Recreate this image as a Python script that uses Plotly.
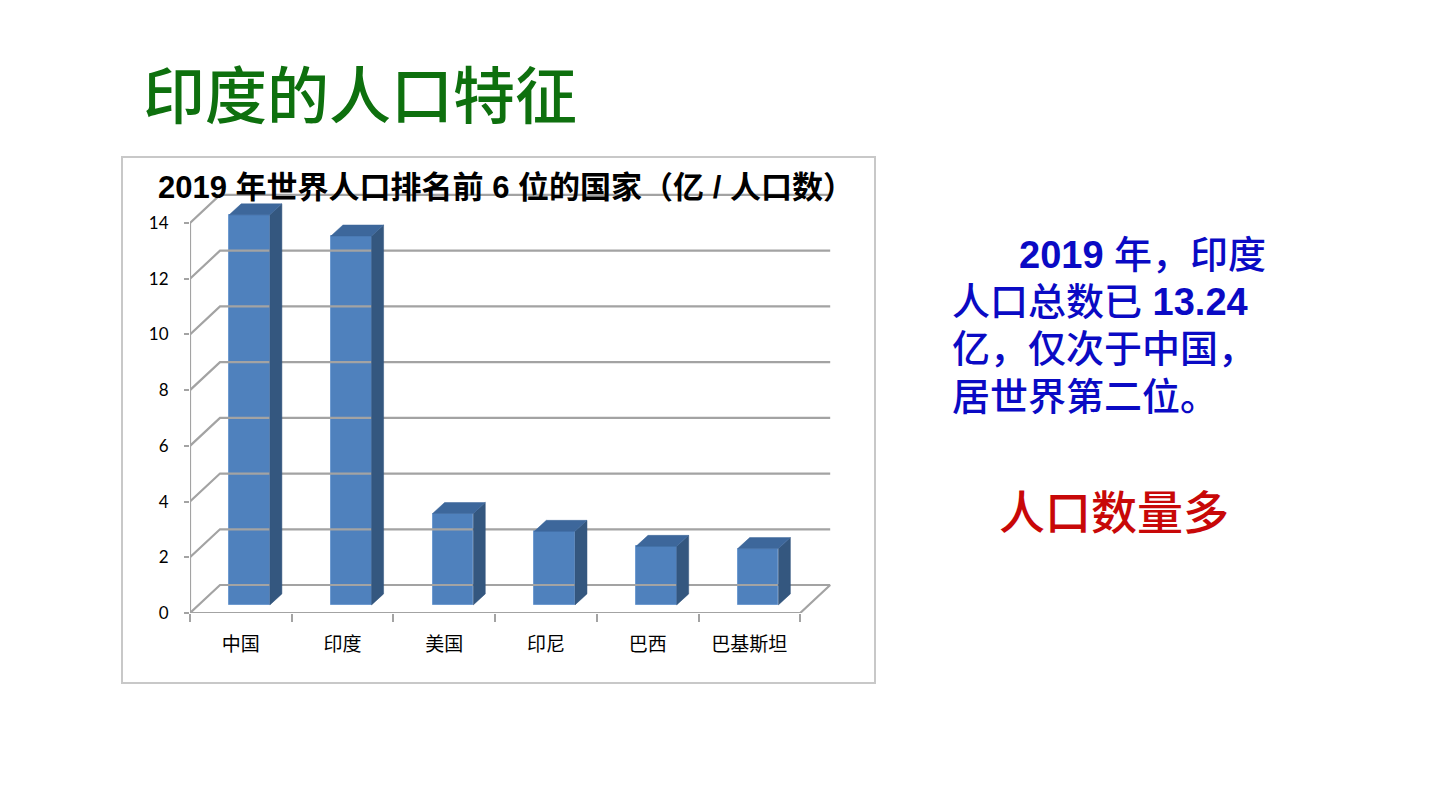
import plotly.graph_objects as go

# ---------------- data ----------------
countries = ["中国", "印度", "美国", "印尼", "巴西", "巴基斯坦"]
population = [14.0, 13.24, 3.28, 2.64, 2.10, 2.02]   # 亿
y_ticks = [0, 2, 4, 6, 8, 10, 12, 14]

chart_title = "<b>2019 年世界人口排名前 6 位的国家（亿 / 人口数）</b>"
slide_title = "印度的人口特征"
side_lines = ["<b>2019</b> 年，印度", "人口总数已 <b>13.24</b>", "亿，仅次于中国，", "居世界第二位。"]
side_note = "人口数量多"

# ---------------- geometry (style) ----------------
W, H = 1440, 810
L, R, B, T = 190, 599, 197, 170
px_per_cat = 101.7
px_per_unit = 27.86
plot_w = W - L - R
plot_h = H - T - B
x_max = plot_w / px_per_cat
y_max = plot_h / px_per_unit

n = len(countries)
DX, DY = 30 / px_per_cat, 28 / px_per_unit          # full depth of the floor/walls
f0 = 0.29                                            # front of bars (depth fraction)
bdx, bdy = 12 / px_per_cat, 11 / px_per_unit         # bar depth
bar_w = 0.40
shift_x, base_y = f0 * DX, f0 * DY

def px2paper_x(px):
    return (px - L) / plot_w

def px2paper_y(py):
    return (H - B - py) / plot_h

grid_col = "#a3a3a3"
fig = go.Figure()

# back wall grid lines + left wall diagonals
gx, gy = [], []
for v in y_ticks:
    gx += [0, DX, n + DX, None]
    gy += [v, v + DY, v + DY, None]
# floor
gx += [0, n, n + DX, None]
gy += [0, 0, DY, None]
# front value axis
gx += [0, 0, None]
gy += [0, max(y_ticks), None]
fig.add_trace(go.Scatter(x=gx, y=gy, mode="lines",
                         line=dict(color=grid_col, width=2.2),
                         hoverinfo="skip", showlegend=False))

# bars: front faces
centers = [i + 0.5 + shift_x for i in range(n)]
fig.add_trace(go.Bar(x=centers, y=population, base=base_y, width=bar_w,
                     marker=dict(color="#4F81BD", line=dict(color="#6f9bd0", width=1)),
                     showlegend=False, hoverinfo="skip"))

# side and top faces
sx, sy, tx, ty = [], [], [], []
for c, v in zip(centers, population):
    xl, xr = c - bar_w / 2, c + bar_w / 2
    b0, b1 = base_y, base_y + v
    sx += [xr, xr + bdx, xr + bdx, xr, xr, None]
    sy += [b0, b0 + bdy, b1 + bdy, b1, b0, None]
    tx += [xl, xr, xr + bdx, xl + bdx, xl, None]
    ty += [b1, b1, b1 + bdy, b1 + bdy, b1, None]
fig.add_trace(go.Scatter(x=sx, y=sy, mode="lines", fill="toself",
                         fillcolor="#34577f", line=dict(color="#34577f", width=0.5),
                         hoverinfo="skip", showlegend=False))
fig.add_trace(go.Scatter(x=tx, y=ty, mode="lines", fill="toself",
                         fillcolor="#3d679b", line=dict(color="#3d679b", width=0.5),
                         hoverinfo="skip", showlegend=False))

# chart frame
fig.add_shape(type="rect", xref="paper", yref="paper",
              x0=px2paper_x(122), x1=px2paper_x(875),
              y0=px2paper_y(683), y1=px2paper_y(157),
              line=dict(color="#c8c8c8", width=2), layer="below")

cjk = "Liberation Sans, Noto Sans CJK SC"
annotations = [
    dict(text=slide_title, x=px2paper_x(141), y=px2paper_y(92), xanchor="left", yanchor="middle",
         font=dict(family="Noto Sans CJK SC", size=62, color="#0e700e", weight=500)),
    dict(text=chart_title, x=px2paper_x(506), y=px2paper_y(187), xanchor="center", yanchor="middle",
         font=dict(family=cjk, size=31, color="#000000")),
    dict(text=side_note, x=px2paper_x(997), y=px2paper_y(513), xanchor="left", yanchor="middle",
         font=dict(family=cjk, size=46, color="#c80808", weight=500)),
]
line_x = [1017, 950, 950, 950]
line_y = [255, 302, 349, 397]
for t, lx, ly in zip(side_lines, line_x, line_y):
    annotations.append(dict(text=t, x=px2paper_x(lx), y=px2paper_y(ly), xanchor="left",
                            yanchor="middle",
                            font=dict(family=cjk, size=38, color="#0a0ac4", weight=500)))
for a in annotations:
    a.update(xref="paper", yref="paper", showarrow=False)

fig.update_layout(
    width=W, height=H,
    margin=dict(l=L, r=R, t=T, b=B, pad=0),
    paper_bgcolor="white", plot_bgcolor="white",
    annotations=annotations,
    bargap=0,
    xaxis=dict(range=[0, x_max], tickvals=[i + 0.5 for i in range(n)], ticktext=countries,
               ticks="", showgrid=False, zeroline=False, showline=False,
               tickfont=dict(family="Noto Sans CJK SC", size=19, color="#000000"),
               ticklabelstandoff=18,
               minor=dict(tickvals=list(range(n + 1)), ticks="outside", ticklen=8,
                          tickcolor=grid_col, tickwidth=2, showgrid=False)),
    yaxis=dict(range=[0, y_max], tickvals=y_ticks, ticks="outside", ticklen=5,
               tickcolor=grid_col, tickwidth=2, showgrid=False, zeroline=False,
               showline=False, ticklabelstandoff=12,
               tickfont=dict(family="Lato, Noto Sans", size=17, color="#000000")),
)

fig.write_html("out.html")
